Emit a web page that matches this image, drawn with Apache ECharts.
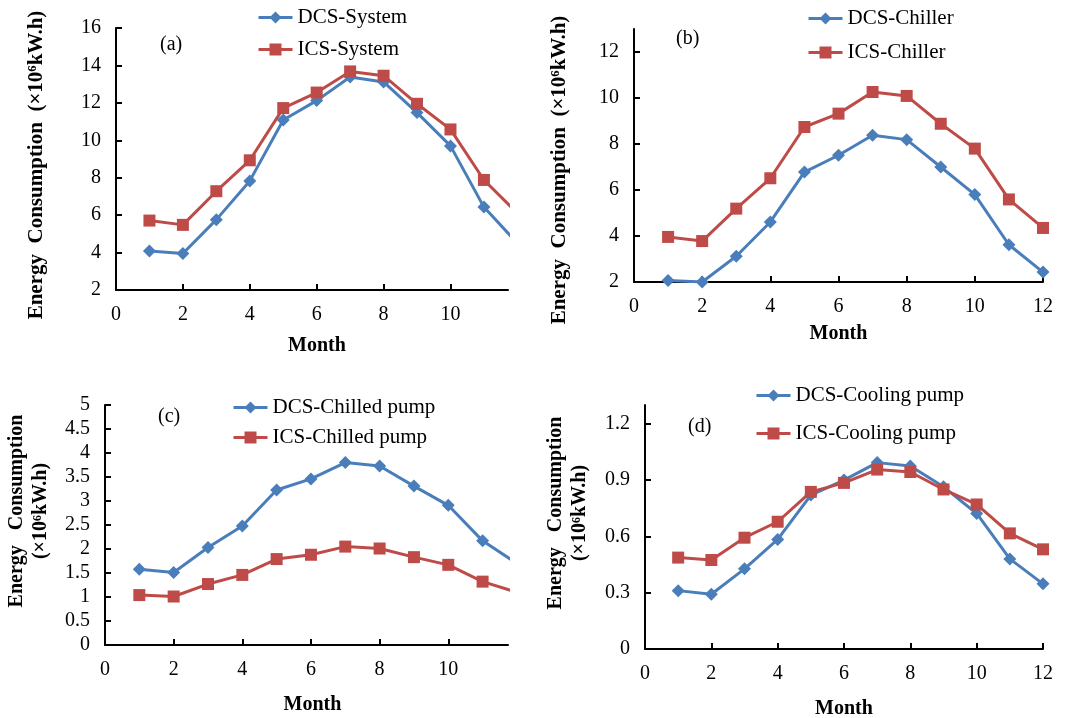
<!DOCTYPE html>
<html>
<head>
<meta charset="utf-8">
<script src="https://cdn.jsdelivr.net/npm/echarts@6/dist/echarts.min.js"></script>
<style>
  html, body { margin: 0; padding: 0; background: #fff; }
  #chart { width: 1081px; height: 718px; }
</style>
</head>
<body>
<div id="chart"></div>
<script>
// months on the x axis
var months = [1, 2, 3, 4, 5, 6, 7, 8, 9, 10, 11, 12];

// (a) whole system
var dcsSystem = [4.08, 3.95, 5.76, 7.83, 11.08, 12.12, 13.38, 13.12, 11.48, 9.70, 6.43, 4.50];
var icsSystem = [5.71, 5.48, 7.28, 8.93, 11.72, 12.55, 13.68, 13.45, 11.95, 10.58, 7.88, 6.10];
// (b) chiller
var dcsChiller = [2.07, 2.00, 3.12, 4.61, 6.78, 7.51, 8.38, 8.19, 7.00, 5.80, 3.62, 2.43];
var icsChiller = [3.96, 3.78, 5.19, 6.51, 8.74, 9.32, 10.26, 10.09, 8.88, 7.80, 5.59, 4.35];
// (c) chilled pump
var dcsChilled = [1.58, 1.51, 2.03, 2.48, 3.23, 3.46, 3.80, 3.73, 3.31, 2.91, 2.17, 1.70];
var icsChilled = [1.04, 1.01, 1.27, 1.46, 1.79, 1.88, 2.05, 2.01, 1.83, 1.67, 1.32, 1.10];
// (d) cooling pump
var dcsCooling = [0.311, 0.292, 0.427, 0.584, 0.82, 0.90, 0.993, 0.975, 0.864, 0.722, 0.48, 0.347];
var icsCooling = [0.487, 0.474, 0.593, 0.678, 0.837, 0.885, 0.956, 0.943, 0.85, 0.77, 0.616, 0.531];

// tick labels
var xTicks = [0, 2, 4, 6, 8, 10, 12];
var xTicksCut = [0, 2, 4, 6, 8, 10];
var yTicksA = [2, 4, 6, 8, 10, 12, 14, 16];
var yTicksB = [2, 4, 6, 8, 10, 12];
var yTicksC = [0, 0.5, 1, 1.5, 2, 2.5, 3, 3.5, 4, 4.5, 5];
var yTicksD = [0, 0.3, 0.6, 0.9, 1.2];

var FONT = '"Liberation Serif", "Times New Roman", serif';
var BLUE = '#4a7ebb';
var RED = '#be4b48';

function pairs(vals) {
    return months.map(function (m, i) { return [m, vals[i]]; });
}

// padding in the text frame nudges a name off the axis centre
function nudge(p) {
    return p >= 0 ? [0, 0, 0, p] : [0, -p, 0, 0];
}

function xAx(idx, max, ticks, gap, pad) {
    return {
        type: 'value', gridIndex: idx, min: 0, max: max,
        name: 'Month', nameLocation: 'middle', nameGap: gap,
        nameTextStyle: { fontFamily: FONT, fontWeight: 'bold', fontSize: 20, color: '#000', padding: nudge(pad) },
        axisLine: { show: true, lineStyle: { color: '#000', width: 2 } },
        axisTick: { show: true, inside: true, length: 6, customValues: ticks, lineStyle: { color: '#000', width: 2 } },
        axisLabel: { customValues: ticks, fontFamily: FONT, fontSize: 20, color: '#000', margin: 15 },
        splitLine: { show: false }
    };
}

function yAx(idx, min, max, ticks, name, gap, pad, fs, fmt) {
    return {
        type: 'value', gridIndex: idx, min: min, max: max,
        name: name, nameLocation: 'middle', nameGap: gap, nameRotate: 90,
        nameTextStyle: { fontFamily: FONT, fontWeight: 'bold', fontSize: fs, color: '#000', lineHeight: 24, padding: nudge(pad) },
        axisLine: { show: true, lineStyle: { color: '#000', width: 2 } },
        axisTick: { show: true, inside: true, length: 6, customValues: ticks, lineStyle: { color: '#000', width: 2 } },
        axisLabel: { customValues: ticks, fontFamily: FONT, fontSize: 20, color: '#000', margin: 15, formatter: fmt },
        splitLine: { show: false }
    };
}

function line(name, idx, vals, color, sym, size) {
    return {
        name: name, type: 'line', xAxisIndex: idx, yAxisIndex: idx,
        data: pairs(vals), symbol: sym, symbolSize: size,
        lineStyle: { color: color, width: 3 },
        itemStyle: { color: color },
        clip: true, animation: false
    };
}

function leg(names, left, top, gap) {
    return {
        data: names, orient: 'vertical', left: left, top: top, padding: 0,
        itemWidth: 34, itemHeight: 15, itemGap: gap,
        lineStyle: { width: 3 },
        textStyle: { fontFamily: FONT, fontSize: 21, color: '#000' }
    };
}

function tag(txt, x, y) {
    return {
        type: 'text', left: x, top: y,
        style: { text: txt, font: '20px ' + FONT, fill: '#000' }
    };
}

var longName = 'Energy  Consumption  (×10⁶kW.h)';
var twoLine = 'Energy   Consumption\n(×10⁶kW.h)';

var option = {
    backgroundColor: '#fff',
    animation: false,
    grid: [
        { left: 116, top: 28, width: 392, height: 262, outerBoundsMode: 'none' },
        { left: 634, top: 29, width: 409, height: 253, outerBoundsMode: 'none' },
        { left: 105, top: 405, width: 403, height: 240, outerBoundsMode: 'none' },
        { left: 645, top: 405, width: 398, height: 244, outerBoundsMode: 'none' }
    ],
    xAxis: [
        xAx(0, 11.72, xTicksCut, 46, 10),
        xAx(1, 12, xTicks, 42, 0),
        xAx(2, 11.74, xTicksCut, 50, 12),
        xAx(3, 12, xTicks, 50, 0)
    ],
    yAxis: [
        yAx(0, 2, 16, yTicksA, longName, 67, -12, 21),
        yAx(1, 2, 13, yTicksB, longName, 62, -29, 21),
        yAx(2, 0, 5, yTicksC, twoLine, 52, 28, 20),
        yAx(3, 0, 1.3, yTicksD, twoLine, 53, 28, 20, function (v) { return v.toFixed(1).replace('0.0', '0'); })
    ],
    legend: [
        leg(['DCS-System', 'ICS-System'], 257, 7, 11),
        leg(['DCS-Chiller', 'ICS-Chiller'], 807, 8, 13),
        leg(['DCS-Chilled pump', 'ICS-Chilled pump'], 232, 397, 9),
        leg(['DCS-Cooling pump', 'ICS-Cooling pump'], 755, 385, 17)
    ],
    graphic: [
        tag('(a)', 160, 35),
        tag('(b)', 676, 29),
        tag('(c)', 158, 407),
        tag('(d)', 688, 417)
    ],
    series: [
        line('DCS-System', 0, dcsSystem, BLUE, 'diamond', 13),
        line('ICS-System', 0, icsSystem, RED, 'rect', 12),
        line('DCS-Chiller', 1, dcsChiller, BLUE, 'diamond', 13),
        line('ICS-Chiller', 1, icsChiller, RED, 'rect', 12),
        line('DCS-Chilled pump', 2, dcsChilled, BLUE, 'diamond', 13),
        line('ICS-Chilled pump', 2, icsChilled, RED, 'rect', 12),
        line('DCS-Cooling pump', 3, dcsCooling, BLUE, 'diamond', 13),
        line('ICS-Cooling pump', 3, icsCooling, RED, 'rect', 12)
    ]
};

var myChart = echarts.init(document.getElementById('chart'));
myChart.setOption(option);
</script>
</body>
</html>
